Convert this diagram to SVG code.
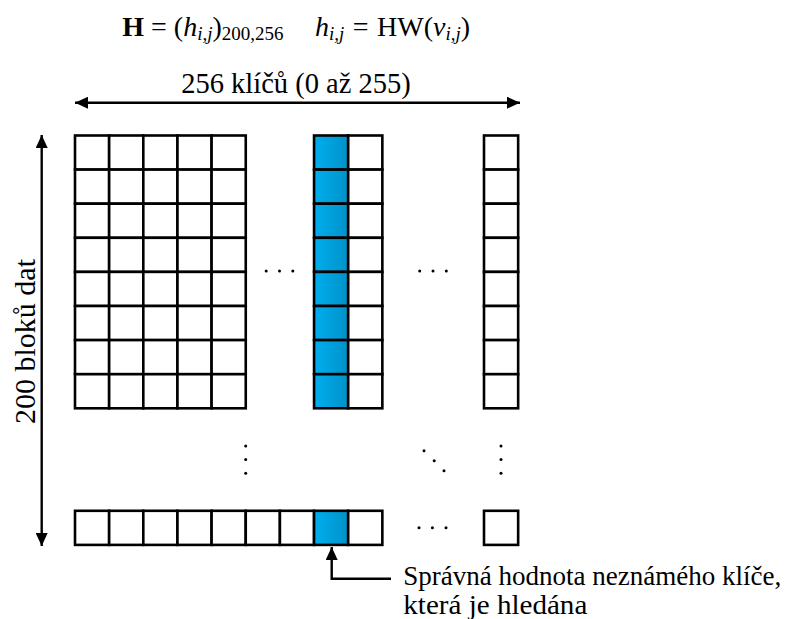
<svg xmlns="http://www.w3.org/2000/svg" width="808" height="619" viewBox="0 0 808 619">
  <style>
    .t { font-family: "Liberation Serif", "Times New Roman", serif; fill: #000; }
    .cell { fill: #fff; stroke: #000; stroke-width: 2.6; }
    .key { fill: url(#blue); stroke: #000; stroke-width: 2.6; }
    .line { fill: none; stroke: #000; stroke-width: 2.4; }
    .dot { fill: #000; }
  </style>
  <defs>
    <linearGradient id="blue" x1="0" y1="0" x2="1" y2="0">
      <stop offset="0" stop-color="#00aeef"/>
      <stop offset="1" stop-color="#0092c8"/>
    </linearGradient>
    <marker id="ah" markerUnits="userSpaceOnUse" markerWidth="14" markerHeight="12" refX="13" refY="6" orient="auto-start-reverse">
      <path d="M0,0 L13,6 L0,12 Z" fill="#000"/>
    </marker>
  </defs>

  <!-- formula -->
  <g id="formula">
    <text class="t" x="122.3" y="36" font-size="28"><tspan font-weight="bold">H</tspan> = (<tspan font-style="italic">h</tspan><tspan font-style="italic" font-size="19" dy="4">i,j</tspan><tspan dy="-4">)</tspan><tspan font-size="19" dy="4">200,256</tspan></text>
    <text class="t" x="315" y="36" font-size="28"><tspan font-style="italic">h</tspan><tspan font-style="italic" font-size="19" dy="4">i,j</tspan><tspan dy="-4" dx="1.5"> = </tspan><tspan dx="1.5">HW(</tspan><tspan font-style="italic">v</tspan><tspan font-style="italic" font-size="19" dy="4">i,j</tspan><tspan dy="-4">)</tspan></text>
  </g>

  <!-- axis labels -->
  <g id="label-keys">
    <text class="t" x="296" y="93" font-size="28.5" text-anchor="middle">256 klíčů (0 až 255)</text>
  </g>
  <g id="label-blocks">
    <text class="t" font-size="30" text-anchor="middle" transform="translate(35,341.5) rotate(-90)">200 bloků dat</text>
  </g>

  <!-- first five key columns, eight rows -->
  <g id="block-left">
    <rect class="cell" x="75" y="135.5" width="34.15" height="34.1"/>
    <rect class="cell" x="109.15" y="135.5" width="34.15" height="34.1"/>
    <rect class="cell" x="143.3" y="135.5" width="34.15" height="34.1"/>
    <rect class="cell" x="177.45" y="135.5" width="34.15" height="34.1"/>
    <rect class="cell" x="211.6" y="135.5" width="34.15" height="34.1"/>
    <rect class="cell" x="75" y="169.6" width="34.15" height="34.1"/>
    <rect class="cell" x="109.15" y="169.6" width="34.15" height="34.1"/>
    <rect class="cell" x="143.3" y="169.6" width="34.15" height="34.1"/>
    <rect class="cell" x="177.45" y="169.6" width="34.15" height="34.1"/>
    <rect class="cell" x="211.6" y="169.6" width="34.15" height="34.1"/>
    <rect class="cell" x="75" y="203.7" width="34.15" height="34.1"/>
    <rect class="cell" x="109.15" y="203.7" width="34.15" height="34.1"/>
    <rect class="cell" x="143.3" y="203.7" width="34.15" height="34.1"/>
    <rect class="cell" x="177.45" y="203.7" width="34.15" height="34.1"/>
    <rect class="cell" x="211.6" y="203.7" width="34.15" height="34.1"/>
    <rect class="cell" x="75" y="237.8" width="34.15" height="34.1"/>
    <rect class="cell" x="109.15" y="237.8" width="34.15" height="34.1"/>
    <rect class="cell" x="143.3" y="237.8" width="34.15" height="34.1"/>
    <rect class="cell" x="177.45" y="237.8" width="34.15" height="34.1"/>
    <rect class="cell" x="211.6" y="237.8" width="34.15" height="34.1"/>
    <rect class="cell" x="75" y="271.9" width="34.15" height="34.1"/>
    <rect class="cell" x="109.15" y="271.9" width="34.15" height="34.1"/>
    <rect class="cell" x="143.3" y="271.9" width="34.15" height="34.1"/>
    <rect class="cell" x="177.45" y="271.9" width="34.15" height="34.1"/>
    <rect class="cell" x="211.6" y="271.9" width="34.15" height="34.1"/>
    <rect class="cell" x="75" y="306" width="34.15" height="34.1"/>
    <rect class="cell" x="109.15" y="306" width="34.15" height="34.1"/>
    <rect class="cell" x="143.3" y="306" width="34.15" height="34.1"/>
    <rect class="cell" x="177.45" y="306" width="34.15" height="34.1"/>
    <rect class="cell" x="211.6" y="306" width="34.15" height="34.1"/>
    <rect class="cell" x="75" y="340.1" width="34.15" height="34.1"/>
    <rect class="cell" x="109.15" y="340.1" width="34.15" height="34.1"/>
    <rect class="cell" x="143.3" y="340.1" width="34.15" height="34.1"/>
    <rect class="cell" x="177.45" y="340.1" width="34.15" height="34.1"/>
    <rect class="cell" x="211.6" y="340.1" width="34.15" height="34.1"/>
    <rect class="cell" x="75" y="374.2" width="34.15" height="34.1"/>
    <rect class="cell" x="109.15" y="374.2" width="34.15" height="34.1"/>
    <rect class="cell" x="143.3" y="374.2" width="34.15" height="34.1"/>
    <rect class="cell" x="177.45" y="374.2" width="34.15" height="34.1"/>
    <rect class="cell" x="211.6" y="374.2" width="34.15" height="34.1"/>
  </g>

  <!-- highlighted key column and its neighbour -->
  <g id="column-key">
    <rect class="key" x="314.05" y="135.5" width="34.15" height="34.1"/>
    <rect class="key" x="314.05" y="169.6" width="34.15" height="34.1"/>
    <rect class="key" x="314.05" y="203.7" width="34.15" height="34.1"/>
    <rect class="key" x="314.05" y="237.8" width="34.15" height="34.1"/>
    <rect class="key" x="314.05" y="271.9" width="34.15" height="34.1"/>
    <rect class="key" x="314.05" y="306" width="34.15" height="34.1"/>
    <rect class="key" x="314.05" y="340.1" width="34.15" height="34.1"/>
    <rect class="key" x="314.05" y="374.2" width="34.15" height="34.1"/>
  </g>
  <g id="column-next">
    <rect class="cell" x="348.2" y="135.5" width="34.15" height="34.1"/>
    <rect class="cell" x="348.2" y="169.6" width="34.15" height="34.1"/>
    <rect class="cell" x="348.2" y="203.7" width="34.15" height="34.1"/>
    <rect class="cell" x="348.2" y="237.8" width="34.15" height="34.1"/>
    <rect class="cell" x="348.2" y="271.9" width="34.15" height="34.1"/>
    <rect class="cell" x="348.2" y="306" width="34.15" height="34.1"/>
    <rect class="cell" x="348.2" y="340.1" width="34.15" height="34.1"/>
    <rect class="cell" x="348.2" y="374.2" width="34.15" height="34.1"/>
  </g>

  <!-- last key column -->
  <g id="column-last">
    <rect class="cell" x="484" y="135.5" width="34.15" height="34.1"/>
    <rect class="cell" x="484" y="169.6" width="34.15" height="34.1"/>
    <rect class="cell" x="484" y="203.7" width="34.15" height="34.1"/>
    <rect class="cell" x="484" y="237.8" width="34.15" height="34.1"/>
    <rect class="cell" x="484" y="271.9" width="34.15" height="34.1"/>
    <rect class="cell" x="484" y="306" width="34.15" height="34.1"/>
    <rect class="cell" x="484" y="340.1" width="34.15" height="34.1"/>
    <rect class="cell" x="484" y="374.2" width="34.15" height="34.1"/>
  </g>

  <!-- last data block row -->
  <g id="row-last">
    <rect class="cell" x="75" y="510.8" width="34.15" height="34.1"/>
    <rect class="cell" x="109.15" y="510.8" width="34.15" height="34.1"/>
    <rect class="cell" x="143.3" y="510.8" width="34.15" height="34.1"/>
    <rect class="cell" x="177.45" y="510.8" width="34.15" height="34.1"/>
    <rect class="cell" x="211.6" y="510.8" width="34.15" height="34.1"/>
    <rect class="cell" x="245.75" y="510.8" width="34.15" height="34.1"/>
    <rect class="cell" x="279.9" y="510.8" width="34.15" height="34.1"/>
    <rect class="key" x="314.05" y="510.8" width="34.15" height="34.1"/>
    <rect class="cell" x="348.2" y="510.8" width="34.15" height="34.1"/>
    <rect class="cell" x="484" y="510.8" width="34.15" height="34.1"/>
  </g>

  <!-- ellipses -->
  <g id="ellipses">
    <circle class="dot" cx="266.2" cy="271" r="1.5"/>
    <circle class="dot" cx="279.5" cy="271" r="1.5"/>
    <circle class="dot" cx="292.8" cy="271" r="1.5"/>
    <circle class="dot" cx="419.7" cy="271" r="1.5"/>
    <circle class="dot" cx="433" cy="271" r="1.5"/>
    <circle class="dot" cx="446.3" cy="271" r="1.5"/>
    <circle class="dot" cx="245.7" cy="446" r="1.5"/>
    <circle class="dot" cx="245.7" cy="459.5" r="1.5"/>
    <circle class="dot" cx="245.7" cy="473.3" r="1.5"/>
    <circle class="dot" cx="501" cy="446" r="1.5"/>
    <circle class="dot" cx="501" cy="459.5" r="1.5"/>
    <circle class="dot" cx="501" cy="473.3" r="1.5"/>
    <circle class="dot" cx="424" cy="450.7" r="1.5"/>
    <circle class="dot" cx="434.2" cy="460.7" r="1.5"/>
    <circle class="dot" cx="444" cy="470.7" r="1.5"/>
    <circle class="dot" cx="419" cy="527.7" r="1.5"/>
    <circle class="dot" cx="432.4" cy="527.7" r="1.5"/>
    <circle class="dot" cx="446" cy="527.7" r="1.5"/>
  </g>

  <!-- dimension arrows and callout -->
  <g id="connectors">
    <line class="line" x1="75" y1="102.7" x2="520" y2="102.7" marker-start="url(#ah)" marker-end="url(#ah)"/>
    <line class="line" x1="41.7" y1="135" x2="41.7" y2="546" marker-start="url(#ah)" marker-end="url(#ah)"/>
    <polyline class="line" points="391,578.7 331.7,578.7 331.7,547" marker-end="url(#ah)"/>
  </g>

  <g id="label-callout">
    <text class="t" x="403.3" y="584.5" font-size="28" textLength="378" lengthAdjust="spacingAndGlyphs">Správná hodnota neznámého klíče,</text>
    <text class="t" x="403.3" y="613.5" font-size="28" textLength="184" lengthAdjust="spacingAndGlyphs">která je hledána</text>
  </g>
</svg>
